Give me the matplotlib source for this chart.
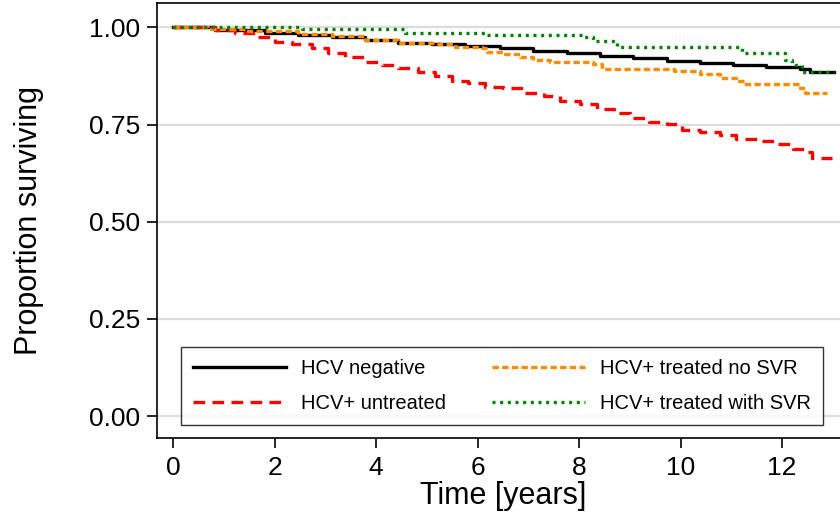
import matplotlib
matplotlib.use("Agg")
import matplotlib.pyplot as plt

plt.rcParams["font.family"] = ["Liberation Sans", "DejaVu Sans"]

# Kaplan-Meier step estimates (time in years, survival proportion)
neg_t = [0, 0.83, 1.81, 2.47, 3.13, 3.78, 4.44, 5.1, 5.75, 6.44, 7.1, 7.76, 8.41, 9.07, 9.73, 10.38, 11.04, 11.69, 12.35, 12.55, 13.03]
neg_s = [1.0, 0.993, 0.985, 0.980, 0.974, 0.967, 0.960, 0.957, 0.952, 0.946, 0.940, 0.935, 0.926, 0.920, 0.914, 0.909, 0.903, 0.899, 0.893, 0.886, 0.886]

untr_t = [0, 0.83, 1.22, 1.62, 2.01, 2.34, 2.73, 3.06, 3.39, 3.78, 4.11, 4.44, 4.83, 5.16, 5.49, 5.82, 6.15, 6.5,
          6.9, 7.3, 7.63, 8.02, 8.35, 8.68, 9.0, 9.37, 9.73, 10.02, 10.38, 10.78, 11.1, 11.5, 11.9, 12.22, 12.45, 12.58, 12.98]
untr_s = [1.0, 0.993, 0.985, 0.974, 0.963, 0.956, 0.946, 0.933, 0.923, 0.910, 0.903, 0.896, 0.886, 0.874, 0.862, 0.857, 0.847, 0.843,
          0.832, 0.823, 0.810, 0.802, 0.791, 0.780, 0.768, 0.756, 0.751, 0.737, 0.731, 0.722, 0.714, 0.708, 0.699, 0.688, 0.679, 0.665, 0.665]

nosvr_t = [0, 0.69, 1.48, 2.47, 3.13, 3.78, 4.44, 5.23, 5.56, 6.08, 6.18, 6.5, 6.84, 7.1, 7.43, 8.28, 8.45,
           9.86, 10.38, 10.78, 11.1, 11.24, 12.36, 12.45, 12.88]
nosvr_s = [1.0, 0.995, 0.990, 0.983, 0.978, 0.967, 0.960, 0.957, 0.950, 0.946, 0.936, 0.931, 0.923, 0.916, 0.911, 0.905, 0.894,
           0.888, 0.880, 0.870, 0.862, 0.853, 0.844, 0.831, 0.831]

svr_t = [0, 2.54, 4.57, 6.15, 8.08, 8.28, 8.74, 11.2, 12.05, 12.2, 12.4, 13.03]
svr_s = [1.0, 0.995, 0.986, 0.979, 0.974, 0.965, 0.950, 0.933, 0.917, 0.904, 0.886, 0.886]

labels = ["HCV negative", "HCV+ untreated", "HCV+ treated no SVR", "HCV+ treated with SVR"]
yticks = [0.0, 0.25, 0.5, 0.75, 1.0]
ytick_labels = ["0.00", "0.25", "0.50", "0.75", "1.00"]
xticks = [0, 2, 4, 6, 8, 10, 12]

W, H = 840, 513
ax_l, ax_t, ax_b = 157, 3, 438
ax_w, ax_h = W - ax_l, ax_b - ax_t

fig = plt.figure(figsize=(8.4, 5.13), dpi=100)
ax = fig.add_axes([ax_l / W, 1 - ax_b / H, ax_w / W, ax_h / H])

lw = 2.4
l1, = ax.plot(neg_t, neg_s, drawstyle="steps-post", color="black", lw=lw, label=labels[0], zorder=3)
l2, = ax.plot(untr_t, untr_s, drawstyle="steps-post", color="#ff0000", lw=lw, dashes=(3.5, 2.2), label=labels[1], zorder=3)
l3, = ax.plot(nosvr_t, nosvr_s, drawstyle="steps-post", color="#ff8c00", lw=lw, dashes=(1.9, 1.0), label=labels[2], zorder=4)
l4, = ax.plot(svr_t, svr_s, drawstyle="steps-post", color="#008000", lw=lw, dashes=(0.9, 1.4), label=labels[3], zorder=4)

ax.set_xlim(-0.315, 13.14)
ax.set_ylim(-0.056, 1.0625)
ax.set_yticks(yticks)
ax.set_yticklabels(ytick_labels)
ax.set_xticks(xticks)
ax.grid(axis="y", color="#dcdcdc", lw=1.6)
ax.set_axisbelow(True)

for s in ["left", "bottom", "top"]:
    ax.spines[s].set_color("black")
    ax.spines[s].set_linewidth(1.2)
ax.spines["right"].set_visible(False)

ax.tick_params(axis="both", direction="out", length=7, width=1.2, labelsize=19, colors="black")
ax.tick_params(axis="y", pad=5)
ax.tick_params(axis="x", pad=6)

ax.set_ylabel("Proportion surviving", fontsize=22)
ax.yaxis.set_label_coords((44 - ax_l) / ax_w, 0.5)
ax.set_xlabel("Time [years]", fontsize=22)
ax.xaxis.set_label_coords((503 - ax_l) / ax_w, (ax_b - 481) / ax_h)

leg = ax.legend(handles=[l1, l2, l3, l4], loc="lower left",
                bbox_to_anchor=((181 - ax_l) / ax_w, (ax_b - 425) / ax_h),
                borderaxespad=0, ncol=2, fontsize=14.5, frameon=True, fancybox=False,
                edgecolor="black", handlelength=4.6, handletextpad=0.75, borderpad=0.6,
                labelspacing=0.8, columnspacing=2.3)
leg.get_frame().set_linewidth(1.0)
fig.savefig("out.png", dpi=100)
